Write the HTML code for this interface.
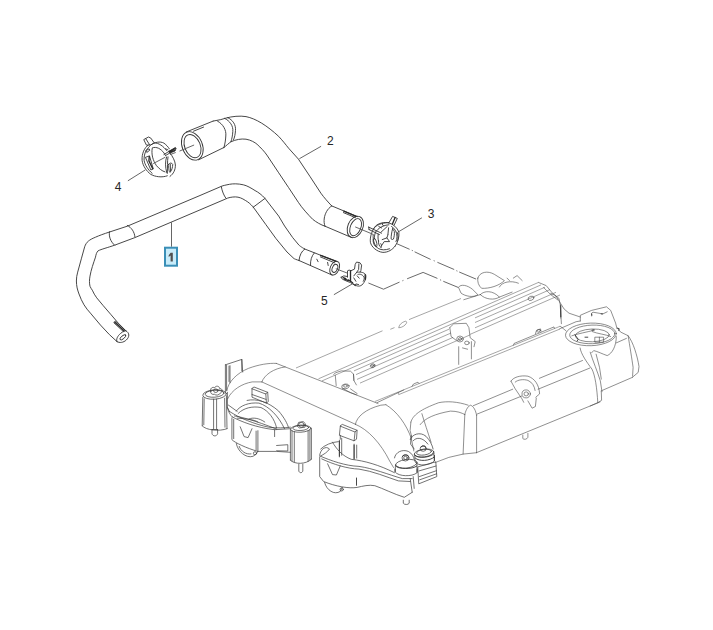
<!DOCTYPE html>
<html><head><meta charset="utf-8"><title>diagram</title>
<style>
html,body{margin:0;padding:0;background:#fff;}
body{width:713px;height:630px;overflow:hidden;font-family:"Liberation Sans",sans-serif;}
svg{display:block;position:absolute;left:0;top:0;}

.h{fill:none;stroke:#333;stroke-width:.9;stroke-linecap:round;stroke-linejoin:round}
.hw{fill:#fff;stroke:#333;stroke-width:1;stroke-linecap:round;stroke-linejoin:round}
.k{fill:none;stroke:#2a2a2a;stroke-width:1.35;stroke-linecap:round}
.c{fill:none;stroke:#333;stroke-width:.9;stroke-linecap:round;stroke-linejoin:round}
.e{fill:none;stroke:#4a4a4a;stroke-width:.62;stroke-linecap:round;stroke-linejoin:round}
.ed{fill:none;stroke:#3c3c3c;stroke-width:.72;stroke-linecap:round;stroke-linejoin:round}
.el{fill:none;stroke:#5c5c5c;stroke-width:.55}
.e2{fill:none;stroke:#333;stroke-width:.9}
.l{fill:none;stroke:#555;stroke-width:.9}
.dd{fill:none;stroke:#444;stroke-width:.8;stroke-linecap:butt}
.d{fill:none;stroke:#444;stroke-width:.8;stroke-dasharray:9 2.5 2 2.5}
text{font-family:"Liberation Sans",sans-serif;font-size:12px;fill:#262626}

</style></head><body>
<svg width="713" height="630" viewBox="0 0 713 630">
<path class="h" d="M 213.1 121.1 L 220.8 119.6 L 225.6 118.2 C 232.0 116.3 240.0 115.6 246.0 116.6 C 256.0 118.6 267.0 125.6 278.7 136.4 C 283.0 141.0 286.0 145.0 288.6 148.2 L 298.4 159.1 L 310.2 176.8 L 320.9 193.2 C 324.0 197.5 328.0 202.0 331.7 205.9"/>
<path class="h" d="M 223.9 147.5 C 226.0 146.0 229.0 143.0 230.9 141.8 C 236.0 139.5 241.0 138.6 246.0 139.2 C 251.0 140.0 255.0 142.5 257.1 144.3 C 261.0 148.0 264.0 151.0 266.9 155.1 L 278.7 172.8 L 288.6 187.6 L 298.4 202.4 C 302.0 208.0 308.0 214.5 312.7 219.3 C 316.0 222.0 321.0 225.0 325.0 226.2"/>
<path class="h" d="M 186.2 132.0 L 213.1 121.1"/>
<path class="h" d="M 193.5 131.2 L 203.6 127.1"/>
<path class="h" d="M 198.6 159.8 L 223.9 147.5"/>
<path class="h" d="M 217.6 121.2 C 223.0 124.0 226.5 130.0 225.8 136.0 C 225.6 140.0 225.0 144.0 223.9 147.5"/>
<path class="h" d="M 224.6 118.3 C 230.0 121.0 233.4 126.0 232.8 131.5 C 232.6 135.0 232.0 139.0 230.9 141.8"/>
<path class="h" d="M 227.7 117.6 C 233.0 120.0 236.0 125.0 235.5 130.4 C 235.3 134.0 234.6 137.5 233.5 139.9"/>
<ellipse class="h" cx="192.3" cy="145.9" rx="10.1" ry="14.8" transform="rotate(-22.0 192.3 145.9)"/>
<ellipse class="h" cx="192.5" cy="146.1" rx="7.8" ry="12.1" transform="rotate(-22.0 192.5 146.1)"/>
<path class="h" d="M 331.7 205.9 L 357.7 216.7"/>
<path class="h" d="M 325.0 226.2 L 352.0 237.7"/>
<path class="h" d="M 331.7 205.9 C 327.0 209.0 325.0 214.0 324.3 218.0 C 323.8 221.5 324.2 224.0 325.0 226.2"/>
<ellipse class="h" cx="355.3" cy="226.9" rx="7.5" ry="11.2" transform="rotate(23.0 355.3 226.9)"/>
<ellipse class="h" cx="355.6" cy="227.2" rx="5.2" ry="9.0" transform="rotate(23.0 355.6 227.2)"/>
<path class="k" d="M 343.8 211.2 L 356.0 216.3"/>
<path class="h" d="M 343.4 212.6 L 355.5 217.7"/>
<path class="h" d="M 304.7 249.0 C 301.0 247.0 299.0 245.2 299.0 245.2 L 292.7 237.6 L 284.6 226.0 L 278.7 216.1 L 265.0 198.4 C 262.0 195.0 258.0 192.0 255.1 190.6 C 251.0 188.0 247.0 185.6 243.3 184.8 C 238.0 183.6 233.0 183.6 229.5 184.3 C 226.0 185.0 223.0 185.6 221.7 186.2 L 200.0 195.5 L 127.3 226.2 L 109.5 232.0 C 104.0 233.8 99.0 235.6 95.5 237.2 C 92.0 238.6 90.0 239.8 88.5 241.0 C 86.5 242.6 85.5 244.5 84.7 246.7 L 81.5 258.2 L 77.7 272.1 C 76.8 275.0 76.4 278.0 76.4 281.0 C 76.4 286.0 77.5 290.0 79.0 294.0 C 80.5 298.0 82.0 301.5 84.0 304.8 C 86.0 308.0 88.0 310.5 90.4 313.1 L 100.5 325.1 L 109.4 334.6 L 117.0 341.6"/>
<path class="h" d="M 299.0 260.5 C 296.5 259.8 294.0 258.6 294.0 258.6 L 287.0 252.0 L 276.0 238.6 L 265.8 224.5 L 253.1 206.9 C 250.5 204.0 248.0 201.8 245.3 200.4 C 242.0 198.2 239.0 197.0 235.4 196.9 C 232.0 196.9 228.0 197.6 225.6 199.0 L 134.9 237.6 L 114.6 245.2 C 108.0 247.5 101.0 249.3 98.1 250.8 C 96.5 252.5 96.0 254.5 95.5 257.1 C 93.5 263.0 91.0 270.0 90.0 276.1 C 89.3 280.0 89.3 283.0 90.0 286.3 C 90.8 288.0 91.5 289.0 92.3 290.2 C 93.5 293.0 95.0 295.5 96.7 297.8 L 103.1 305.5 L 110.7 314.3 L 118.3 323.2 L 125.9 330.8"/>
<path class="h" d="M 221.3 186.6 C 222.0 191.0 223.8 195.5 226.0 198.4"/>
<path class="h" d="M 265.0 198.4 L 253.1 207.3"/>
<path class="h" d="M 109.5 231.7 C 108.6 236.5 110.5 241.5 114.6 245.2"/>
<path class="h" d="M 127.3 225.4 C 131.5 227.5 134.5 232.0 134.9 236.8"/>
<path class="h" d="M 117.0 341.6 C 119.5 343.3 123.5 342.6 126.3 340.0 C 129.5 337.0 130.0 333.0 125.9 330.8"/>
<path class="h" d="M 117.0 341.6 C 115.8 339.5 117.5 336.0 120.5 333.5 C 123.0 331.3 125.0 330.5 125.9 330.8"/>
<ellipse class="h" cx="122.9" cy="337.3" rx="3.6" ry="1.5" transform="rotate(-40.0 122.9 337.3)"/>
<path class="h" d="M 113.8 322.7 L 123.3 331.5 M 115.4 321.1 L 124.9 329.9"/>
<path class="k" d="M 114.6 321.9 L 124.1 330.7" stroke="#888" stroke-width="1.2"/>
<path class="h" d="M 304.7 249.0 L 337.1 261.7"/>
<path class="h" d="M 299.0 260.5 L 332.0 275.0"/>
<path class="h" d="M 304.7 249.0 C 301.5 251.5 299.6 255.0 299.0 260.5"/>
<path class="h" d="M 314.3 253.0 C 311.6 256.0 310.3 260.0 310.5 265.5"/>
<ellipse class="h" cx="334.7" cy="268.1" rx="4.4" ry="7.3" transform="rotate(23.0 334.7 268.1)"/>
<ellipse class="h" cx="334.9" cy="268.4" rx="2.6" ry="4.2" transform="rotate(23.0 334.9 268.4)"/>
<path class="k" d="M 320.6 255.4 L 335.8 261.2"/>
<path class="h" d="M 320.4 256.9 L 334.8 262.9"/>
<path class="h" d="M 316.8 259.2 L 318.1 261.7"/>
<path class="h" d="M 327.6 262.4 L 328.2 265.5"/>
<rect x="165" y="247.7" width="12" height="18" fill="#c8ecfa" stroke="#3a8fb7" stroke-width="2"/>
<path d="M170.6 252.8 L172.8 252.8 L172.8 261.4 L170.6 261.4 L170.6 255.6 L168.7 256.9 L168.7 255.2 Z" fill="#505050"/>
<path class="l" d="M 171.5 222.3 L 171.5 246.7" stroke-width="1.2" stroke="#666"/>
<text x="330.4" y="145.4" text-anchor="middle">2</text>
<path class="l" d="M 321.1 146.3 L 299.4 158.7"/>
<text x="431" y="217.7" text-anchor="middle">3</text>
<path class="l" d="M 398.8 231.6 L 421.9 217.8"/>
<text x="118.1" y="190.6" text-anchor="middle">4</text>
<path class="l" d="M 127.9 180.8 L 145.3 169.9"/>
<text x="324.3" y="304.9" text-anchor="middle">5</text>
<path class="l" d="M 333.9 294.7 L 352.3 283.9"/>
<path class="c" d="M 148.1 145.1 C 144.4 147.8 141.7 153.5 142.1 160.3 C 142.7 165.7 146.4 171.0 150.8 174.4 C 155.2 176.8 161.9 177.8 167.3 175.8"/>
<path class="c" d="M 149.5 146.5 C 146.1 149.2 143.8 154.2 144.1 160.3 C 144.8 165.0 148.1 169.7 152.2 173.4"/>
<path class="c" d="M 144.1 139.4 L 148.5 137.0 L 150.8 138.1 L 154.2 142.8 L 150.5 145.1 L 146.8 145.1 Z M 145.8 138.7 L 149.5 144.6"/>
<path class="c" d="M 150.5 145.1 C 155.2 142.0 159.9 141.1 163.9 143.1 C 166.6 145.1 168.3 147.1 169.3 148.8"/>
<path class="c" d="M 154.5 142.9 C 158.6 142.8 163.3 146.1 166.6 150.5"/>
<path class="c" d="M 152.5 147.8 C 156.5 146.3 160.9 148.8 163.9 152.9 L 165.0 154.6"/>
<path class="c" d="M 163.9 154.6 L 168.7 151.5 L 175.4 147.5 L 176.1 148.6 L 174.7 151.2 L 170.0 152.9 L 165.3 155.7"/>
<path class="k" d="M 169.0 151.7 L 175.3 148.3 M 169.7 152.5 L 174.9 150.3"/>
<path class="c" d="M 165.6 148.8 L 168.0 149.9"/>
<path class="c" d="M 170.0 152.9 C 172.7 156.6 175.1 160.9 175.4 165.0 C 175.4 169.7 173.7 173.7 170.0 176.4"/>
<path class="c" d="M 166.6 156.9 C 165.2 160.9 165.0 167.0 166.8 172.7 M 168.0 156.9 C 167.2 161.6 167.7 167.0 167.3 173.4"/>
<path class="c" d="M 152.2 148.5 C 151.2 154.2 152.8 160.3 156.5 165.7 C 159.2 168.7 161.9 171.0 165.0 171.9"/>
<path class="c" d="M 146.1 150.5 L 149.1 148.8 L 149.8 150.2 L 147.1 152.2 Z"/>
<path class="c" d="M 145.8 157.2 L 149.5 155.9 L 153.3 169.0 L 151.2 169.8 Z"/>
<path class="k" d="M 149.3 156.4 L 148.9 160.9 L 152.6 168.5"/>
<path class="c" d="M 168.7 164.3 C 169.7 162.6 171.7 162.6 172.7 164.3 C 172.8 167.0 171.7 170.7 170.0 172.4 C 169.0 171.7 168.5 168.4 168.7 164.3 Z"/>
<path class="c" d="M 170.3 164.3 L 170.5 171.0"/>
<path class="l" d="M 153.2 163.6 L 165.3 157.2 M 170.0 154.6 L 175.7 152.5 M 179.5 151.1 L 194.1 145.0"/>
<path class="c" d="M 388.6 222.8 C 384.2 221.8 378.8 223.1 375.5 226.1 C 372.1 230.2 369.7 236.9 370.4 242.3 C 371.4 247.0 376.8 251.7 382.9 252.4 C 388.3 252.4 392.3 249.7 395.0 246.3"/>
<path class="c" d="M 388.6 222.8 C 393.6 224.1 397.3 227.8 398.9 232.2 C 399.4 236.9 398.0 242.3 395.0 246.3"/>
<path class="c" d="M 391.6 226.5 C 395.0 228.5 397.0 232.2 397.0 236.9 C 397.0 238.9 396.5 240.6 396.0 241.6"/>
<path class="c" d="M 373.2 234.6 C 372.6 240.3 374.8 247.0 378.8 248.7 C 381.5 250.0 384.9 250.4 389.5 248.8"/>
<path class="c" d="M 388.9 222.8 L 392.6 216.4 L 397.3 218.4 L 394.3 224.8"/>
<path class="k" d="M 395.1 217.5 L 392.4 224.0"/>
<path class="c" d="M 368.7 227.1 L 381.5 233.2 M 369.1 229.6 L 379.5 234.6 M 368.7 227.1 L 369.1 229.6"/>
<path class="c" d="M 373.8 228.5 C 375.8 225.1 381.5 222.8 388.6 222.6"/>
<path class="c" d="M 375.5 232.2 C 378.2 227.8 383.5 225.1 388.9 224.8"/>
<path class="c" d="M 381.0 232.2 L 387.2 226.5" stroke-width="1.15"/>
<path class="c" d="M 378.8 226.5 L 381.7 228.0 M 382.2 224.1 L 383.5 225.8"/>
<path class="c" d="M 388.6 227.8 L 387.9 234.6" stroke-width="1.15"/>
<path class="c" d="M 392.6 228.8 C 391.6 232.2 391.1 236.2 391.1 238.9 C 392.0 239.7 393.0 239.6 393.4 239.1 C 394.2 236.9 394.7 233.5 394.3 231.5 C 394.0 230.2 393.3 229.2 392.6 228.8 Z"/>
<path class="c" d="M 397.1 232.2 C 398.4 234.9 398.2 237.9 397.7 240.3" stroke-width="1.15"/>
<path class="c" d="M 387.9 234.9 L 386.9 237.9 L 382.2 239.6 M 386.9 237.9 L 389.6 241.6 L 384.2 241.6 L 381.5 245.7" stroke-width=".7"/>
<path class="c" d="M 373.1 239.6 C 372.8 243.0 374.5 246.3 376.5 247.0 C 377.5 245.3 376.9 241.6 375.1 238.9 Z"/>
<path class="c" d="M 378.5 240.9 C 378.2 243.6 379.4 246.7 381.2 247.7 C 381.7 246.0 381.5 244.3 380.8 243.6"/>
<path class="c" d="M 375.5 232.2 C 374.5 234.9 374.1 237.6 374.5 238.9 M 378.2 234.2 C 377.8 236.9 378.0 239.6 378.5 240.9"/>
<path class="l" d="M 355.2 226.9 L 373.0 234.3"/>
<path class="c" d="M 347.5 277.2 L 347.5 270.8 L 349.1 270.1 L 350.8 270.6"/>
<path class="k" d="M 350.5 270.9 L 350.5 281.4"/>
<path class="c" d="M 350.8 270.8 L 354.5 269.1 L 355.2 264.4 L 356.5 262.1 L 359.9 262.7 L 361.6 265.1 L 360.9 270.5 L 360.2 271.8"/>
<path class="c" d="M 358.9 263.8 L 358.6 269.5 L 356.5 272.5 L 353.8 275.9"/>
<path class="c" d="M 356.5 272.5 C 359.2 271.7 363.3 271.8 365.6 274.5 C 366.6 277.9 365.0 281.9 361.9 285.0 C 359.2 287.0 355.9 286.3 352.8 283.3"/>
<path class="c" d="M 357.9 274.5 C 360.2 273.5 363.3 274.9 364.3 277.9 C 364.3 279.6 363.9 280.6 363.3 281.4"/>
<path class="k" d="M 365.1 274.7 L 365.4 279.2"/>
<path class="c" d="M 341.1 277.2 L 343.8 275.9 L 347.5 276.5 M 341.1 277.2 L 342.4 279.2 L 347.1 281.3 L 350.5 282.6 L 355.2 285.6"/>
<path class="k" d="M 343.1 277.6 L 345.8 278.6 M 344.4 279.0 L 348.5 280.6"/>
<path class="k" d="M 348.6 280.0 L 352.6 282.7"/>
<path class="c" d="M 353.8 277.9 L 355.9 281.3 M 357.2 275.9 L 359.2 278.2 M 355.2 285.6 L 355.9 283.9 L 358.6 284.6"/>
<path class="l" d="M 335.8 268.7 L 347.3 273.1"/>
<path class="dd" d="M 396.1 243.4 L 409.6 249.3 M 411.8 250.3 L 412.8 250.7 M 414.6 251.8 L 430.6 259.4 M 433.7 260.6 L 434.7 261.0 M 437.4 262.3 L 454.2 269.5 M 456.4 270.7 L 457.4 271.1 M 459.2 272.0 L 476.1 279.1"/>
<path class="dd" d="M 368.4 283.0 L 383.5 289.2 L 399.5 282.1 M 402.4 280.8 L 403.4 280.4 M 407.1 278.8 L 423.1 272.4 L 437.4 278.4 M 440.1 279.8 L 441.1 280.2 M 443.3 281.3 L 458.4 287.5"/>
<path class="el" d="M 296.0 368.0 L 382.5 330.8"/>
<path class="el" d="M 390.3 329.3 L 394.5 327.6 M 398.7 327.8 C 399.0 325.0 401.5 322.3 405.4 321.2 C 407.0 321.3 406.8 322.8 406.2 323.6 C 405.0 325.6 402.0 327.6 398.7 327.8"/>
<path class="el" d="M 409.0 319.6 L 461.0 298.5"/>
<path class="el" d="M 318.5 378.8 L 538.5 282.4"/>
<path class="el" d="M 322.0 380.9 L 541.0 284.9"/>
<path class="el" d="M 354.0 370.9 L 449.0 329.2"/>
<path class="el" d="M 475.0 317.9 L 545.0 287.2"/>
<path class="el" d="M 356.0 374.6 L 451.0 333.0"/>
<path class="el" d="M 475.0 322.5 L 550.0 289.6"/>
<path class="el" d="M 357.0 379.4 L 453.0 337.4"/>
<path class="el" d="M 475.0 327.8 L 556.0 292.3"/>
<path class="el" d="M 360.0 383.1 L 470.0 334.9"/>
<path class="el" d="M 470.0 334.4 L 560.0 295.0"/>
<path class="el" d="M 374.9 401.5 L 560.0 326.3"/>
<path class="el" d="M 398.7 394.6 L 560.0 329.0"/>
<path class="el" d="M 398.7 394.6 L 398.0 392.2"/>
<path class="e" d="M 412.0 386.3 L 413.5 384.0 L 418.0 382.2 L 419.0 383.5"/>
<path class="e" d="M 513.5 345.1 L 514.0 343.5 L 554.0 326.9 L 554.4 328.2"/>
<path class="e" d="M 535.5 333.6 L 536.5 330.4 L 540.5 328.9 L 541.0 331.3"/>
<path class="e" d="M 276.3 363.4 L 378.0 403.5"/>
<path class="e" d="M 262.0 382.0 L 355.5 424.3"/>
<path class="e" d="M 226.8 390.8 C 228.1 381.9 237.0 373.0 248.4 368.4 C 258.6 364.6 268.7 362.9 276.3 363.4"/>
<path class="e" d="M 285.2 366.9 C 273.8 368.4 264.2 374.8 261.9 381.9"/>
<path class="e" d="M 227.6 398.9 C 231.9 389.5 242.1 383.7 252.2 381.9 L 261.9 381.9"/>
<path class="e" d="M 355.4 424.3 C 356.7 416.7 365.6 409.0 380.8 405.2 L 385.9 404.7"/>
<path class="e" d="M 385.9 404.7 C 397.3 411.6 406.2 424.3 411.3 438.3 L 413.8 451.0"/>
<path class="e" d="M 355.4 424.3 C 368.1 429.4 380.8 443.3 389.7 461.1 L 393.5 467.5"/>
<path class="e" d="M 377.0 402.7 L 403.7 390.0"/>
<path class="ed" d="M 225.4 364.8 L 225.4 392.3 M 226.6 365.4 L 226.6 390.3 M 225.4 364.8 L 241.8 359.4 L 242.7 372.0 M 241.8 359.4 L 241.8 370.7 M 230.0 365.7 L 230.0 382.7 M 229.0 366.1 L 229.0 381.5"/>
<ellipse class="ed" cx="214.6" cy="394.5" rx="11.8" ry="4.7" transform="rotate(-4.0 214.6 394.5)"/>
<ellipse class="ed" cx="214.6" cy="393.7" rx="9.4" ry="3.5" transform="rotate(-4.0 214.6 393.7)"/>
<path class="ed" d="M 202.8 397.2 L 202.2 425.8 M 226.4 395.7 L 227.0 428.7 M 202.2 425.8 C 205.7 430.3 219.5 431.7 227.0 428.7 M 204.2 398.8 L 203.8 424.8 M 224.6 398.2 L 225.0 427.2"/>
<path class="ed" d="M 210.7 391.3 C 209.7 388.4 212.6 386.4 214.6 387.8 C 215.6 385.4 219.5 385.8 219.5 388.4 C 222.5 388.4 223.1 391.7 220.5 392.9 C 219.5 395.3 215.6 395.7 214.6 394.3 C 212.0 394.9 210.1 393.3 210.7 391.3 Z"/>
<ellipse class="ed" cx="215.8" cy="390.7" rx="2.2" ry="1.8" transform="rotate(0.0 215.8 390.7)"/>
<path class="ed" d="M 213.6 399.2 L 213.6 429.1 M 216.6 399.2 L 216.6 429.1 M 212.0 429.5 L 212.0 433.7 C 212.8 436.6 216.8 436.6 217.6 433.7 L 217.6 429.5 M 212.0 429.5 L 217.6 429.5"/>
<path class="ed" d="M 227.4 392.3 L 227.4 407.5 L 229.4 411.4 M 228.4 405.1 L 237.2 411.4 M 227.4 407.5 C 228.4 412.0 230.3 415.3 232.3 416.9"/>
<path class="ed" d="M 232.3 416.9 C 241.2 421.8 256.9 427.7 274.6 429.7 L 290.4 428.7"/>
<path class="ed" d="M 229.4 411.4 C 239.2 417.9 255.0 424.4 268.7 427.2 C 276.6 428.3 284.5 427.9 290.4 427.2"/>
<path class="ed" d="M 231.9 417.9 L 231.9 439.6 C 234.3 442.5 247.1 448.4 257.9 451.4 L 257.9 430.7"/>
<path class="ed" d="M 233.7 419.3 L 233.7 438.6 M 256.1 431.1 L 256.1 450.0"/>
<path class="ed" d="M 240.2 426.8 L 244.1 436.6 L 248.1 437.6 L 252.0 428.7"/>
<path class="ed" d="M 236.3 443.5 C 237.6 451.4 246.1 458.6 253.0 456.3 C 255.9 454.7 257.3 452.7 257.9 451.4"/>
<path class="ed" d="M 239.2 446.4 C 240.8 451.4 246.1 454.7 251.0 453.9"/>
<ellipse class="ed" cx="255.0" cy="453.3" rx="1.6" ry="1.6" transform="rotate(0.0 255.0 453.3)"/>
<path class="ed" d="M 236.3 411.0 C 240.2 405.5 249.0 402.2 258.9 403.1 C 268.7 406.1 278.6 415.9 284.5 428.7"/>
<path class="ed" d="M 238.2 413.4 C 244.1 407.5 253.0 406.1 260.9 407.5 C 268.7 411.0 274.6 418.9 276.6 427.9"/>
<path class="ed" d="M 247.1 400.4 C 256.9 398.2 268.7 402.2 278.6 411.0 C 284.5 417.9 287.4 423.8 288.4 427.2"/>
<path class="ed" d="M 234.3 415.9 C 247.1 417.9 264.8 424.4 276.6 429.1"/>
<path class="ed" d="M 237.2 418.1 C 245.1 418.9 254.0 419.3 257.9 422.0 M 249.0 418.9 C 253.0 417.3 258.9 417.9 264.8 422.0"/>
<path class="ed" d="M 252.0 388.4 L 254.0 387.0 L 267.7 392.3 L 265.8 393.7 Z M 252.0 388.8 L 252.0 397.2 L 266.4 403.1 L 265.8 393.7 M 267.7 392.3 L 268.3 401.6 L 266.4 403.1 M 252.0 394.5 L 266.0 399.4"/>
<path class="ed" d="M 257.9 451.4 L 276.6 451.4 L 290.4 452.3 M 274.6 429.7 L 274.6 436.6 M 276.6 445.5 L 287.8 444.7 L 287.8 451.0 L 276.6 450.8"/>
<ellipse class="ed" cx="300.8" cy="428.7" rx="10.2" ry="3.5" transform="rotate(-3.0 300.8 428.7)"/>
<ellipse class="ed" cx="300.8" cy="427.9" rx="7.9" ry="2.6" transform="rotate(-3.0 300.8 427.9)"/>
<ellipse class="ed" cx="301.4" cy="424.8" rx="2.8" ry="2.4" transform="rotate(0.0 301.4 424.8)"/>
<path class="ed" d="M 297.3 425.8 L 298.6 422.4 L 303.2 421.6 L 305.7 424.0 L 304.9 427.2 L 299.8 427.9 Z"/>
<path class="ed" d="M 290.4 429.7 L 290.4 460.2 M 311.4 428.7 L 311.4 459.2 M 294.3 431.7 L 294.3 462.2 M 308.1 430.7 L 308.1 461.4 M 292.0 430.7 L 292.0 461.0 M 309.9 429.7 L 309.9 460.2"/>
<path class="ed" d="M 290.4 460.2 C 294.3 464.6 306.1 464.6 311.4 459.2"/>
<path class="ed" d="M 298.8 464.2 L 298.8 471.0 C 299.4 473.2 302.2 473.2 302.8 471.0 L 302.8 464.2"/>
<path class="ed" d="M 340.3 425.8 L 342.3 424.4 L 357.1 430.3 L 355.1 431.7 Z M 340.3 426.4 L 339.4 435.3 L 354.1 440.8 L 355.1 431.7 M 357.1 430.3 L 356.5 439.2 L 354.1 440.8"/>
<path class="ed" d="M 339.4 440.2 L 339.4 456.9 M 341.7 438.2 L 341.7 455.3 M 354.1 444.1 L 354.1 459.3 M 356.7 445.1 L 356.7 458.1 M 340.3 435.3 L 340.3 439.2"/>
<path class="e2" d="M 339.4 440.8 L 339.4 456.5 M 354.1 444.7 L 354.1 458.9"/>
<path class="ed" d="M 320.7 449.0 C 324.6 445.1 331.5 442.2 338.4 441.6 M 332.5 442.2 C 336.4 449.0 342.3 455.9 351.2 459.3 C 365.0 460.9 378.7 464.8 394.5 472.7"/>
<path class="ed" d="M 319.7 455.0 C 320.7 449.0 325.6 445.5 329.5 449.0 C 327.6 452.0 323.6 454.6 320.7 455.9"/>
<path class="ed" d="M 319.7 455.9 C 331.5 460.9 345.3 465.8 359.0 466.4 C 372.8 468.3 388.6 474.6 402.3 478.6 L 412.2 478.6"/>
<path class="ed" d="M 321.7 458.9 C 333.5 464.4 347.2 468.7 359.0 469.1 C 372.8 471.1 386.6 477.0 398.4 480.9 L 410.2 481.5"/>
<path class="ed" d="M 319.7 456.9 L 319.7 476.6 L 323.6 481.5 C 335.4 486.4 349.2 488.8 357.1 487.4 C 363.0 486.1 368.9 484.5 374.8 485.7 C 382.7 488.4 394.5 494.3 404.3 497.3 L 412.2 492.3"/>
<path class="ed" d="M 327.6 463.8 L 332.5 474.6 L 336.4 475.0 L 340.3 465.8"/>
<path class="e2" d="M 356.5 477.6 L 356.5 485.7"/>
<path class="ed" d="M 324.6 482.5 C 326.6 490.4 334.4 495.3 340.3 491.4 L 342.3 487.4"/>
<ellipse class="ed" cx="341.7" cy="489.4" rx="1.6" ry="1.6" transform="rotate(0.0 341.7 489.4)"/>
<ellipse class="ed" cx="406.3" cy="463.8" rx="10.8" ry="4.3" transform="rotate(-8.0 406.3 463.8)"/>
<ellipse class="ed" cx="405.5" cy="457.9" rx="3.5" ry="3.1" transform="rotate(0.0 405.5 457.9)"/>
<ellipse class="ed" cx="405.5" cy="457.9" rx="1.8" ry="1.6" transform="rotate(0.0 405.5 457.9)"/>
<path class="ed" d="M 395.5 464.8 L 395.1 471.9 C 398.4 476.6 412.2 477.0 417.1 472.7 L 416.9 463.2"/>
<path class="ed" d="M 394.5 457.9 C 395.5 452.0 402.3 449.0 408.3 451.4 C 412.2 453.4 413.8 456.9 414.2 459.3"/>
<ellipse class="ed" cx="424.0" cy="453.0" rx="9.8" ry="3.9" transform="rotate(-8.0 424.0 453.0)"/>
<ellipse class="ed" cx="423.2" cy="448.7" rx="3.0" ry="2.6" transform="rotate(0.0 423.2 448.7)"/>
<ellipse class="ed" cx="424.0" cy="452.2" rx="7.5" ry="2.8" transform="rotate(-8.0 424.0 452.2)"/>
<path class="ed" d="M 414.6 454.0 L 415.1 462.0 C 418.1 466.4 429.9 465.8 434.4 460.9 L 433.8 452.2"/>
<path class="ed" d="M 410.2 439.6 C 411.8 434.3 420.1 431.3 426.0 436.3 C 429.9 440.2 432.3 445.1 433.1 449.0"/>
<path class="ed" d="M 413.2 440.8 C 416.1 436.8 423.0 437.2 427.9 444.1"/>
<path class="ed" d="M 411.2 435.7 L 410.6 444.1 L 414.2 449.0"/>
<path class="e2" d="M 414.7 455.0 C 418.1 458.5 429.9 457.9 434.2 453.4 M 415.1 457.9 C 419.1 461.8 429.9 460.9 434.4 456.9"/>
<path class="e2" d="M 395.5 465.2 C 398.4 469.1 412.2 469.7 417.1 465.8"/>
<path class="e2" d="M 402.3 456.9 L 403.9 455.0 L 407.3 455.0 L 408.6 456.9 M 420.5 447.5 L 422.0 445.9 L 424.8 445.9 L 426.0 447.9"/>
<path class="e2" d="M 395.1 468.7 L 395.1 471.9 M 417.1 468.7 L 417.1 472.7 M 434.4 455.0 L 434.4 460.9"/>
<path class="ed" d="M 418.1 466.8 L 435.8 461.8 L 436.8 476.6 L 419.1 483.7 Z M 419.1 470.9 L 436.0 466.0 M 419.7 479.8 L 436.6 473.8 M 419.3 476.6 L 436.4 470.7"/>
<path class="ed" d="M 410.2 478.6 L 412.2 492.3 M 413.2 476.6 L 414.2 488.4"/>
<path class="ed" d="M 403.3 500.2 L 403.3 503.2 C 404.3 504.9 408.3 504.9 409.2 503.2 L 409.2 500.2"/>
<path class="e" d="M 410.9 422.1 C 412.6 415.3 420.2 409.5 438.7 402.7 C 447.1 401.0 457.2 401.5 468.2 405.2"/>
<path class="e" d="M 420.2 424.6 C 424.4 418.4 435.3 413.7 450.5 411.1 C 457.2 411.1 461.4 412.8 464.8 414.5"/>
<path class="e" d="M 464.8 414.5 C 466.0 408.9 468.7 405.6 470.7 405.2 C 473.7 406.6 475.7 410.3 476.6 415.3"/>
<path class="e" d="M 464.8 414.5 L 463.1 454.1 M 476.6 415.3 L 476.6 452.4"/>
<path class="e" d="M 410.9 422.1 L 410.1 430.5 L 411.8 437.2"/>
<path class="e" d="M 435.3 462.5 L 448.8 457.4 L 463.1 454.1 L 476.6 452.7"/>
<path class="e" d="M 421.9 413.7 C 424.4 422.1 427.8 432.2 431.1 442.3"/>
<path class="e" d="M 473.3 405.7 L 512.7 389.2 M 539.4 378.3 L 582.5 360.5"/>
<path class="e" d="M 477.1 414.1 L 521.6 396.1 M 538.1 389.2 L 589.7 368.1"/>
<path class="e" d="M 476.4 452.7 L 600.1 401.9"/>
<path class="e" d="M 538.6 282.5 L 546.2 285.6 L 552.5 293.2 L 558.9 298.3 L 560.2 304.6 L 561.4 323.7"/>
<path class="e" d="M 543.7 287.6 L 550.8 294.7 L 557.6 299.8"/>
<ellipse class="e" cx="531.0" cy="298.3" rx="3.0" ry="2.0" transform="rotate(-20.0 531.0 298.3)"/>
<ellipse class="e" cx="538.6" cy="330.8" rx="1.8" ry="1.3" transform="rotate(-20.0 538.6 330.8)"/>
<ellipse class="e" cx="590.9" cy="334.4" rx="25.4" ry="11.3" transform="rotate(-2.0 590.9 334.4)"/>
<ellipse class="e" cx="592.3" cy="334.4" rx="22.6" ry="9.3" transform="rotate(-2.0 592.3 334.4)"/>
<ellipse class="e" cx="592.3" cy="335.4" rx="17.0" ry="6.4" transform="rotate(-2.0 592.3 335.4)"/>
<path class="e" d="M 571.8 335.8 C 577.5 333.7 587.4 332.0 594.4 330.2 M 592.3 331.6 C 597.3 333.7 605.7 334.4 610.7 336.5"/>
<path class="e" d="M 595.2 337.2 L 603.6 337.2 L 603.6 342.2 L 595.2 342.2 Z M 599.4 337.2 L 599.4 342.2"/>
<path class="e2" d="M 574.7 334.4 L 578.2 339.3 L 576.8 341.5 M 584.6 337.2 L 588.2 337.2 M 591.6 330.2 L 594.4 329.7"/>
<path class="e" d="M 580.3 321.0 L 580.3 315.3 L 591.6 310.4 L 606.5 306.8 L 610.7 310.4 L 615.6 323.1 L 617.0 328.7"/>
<path class="e" d="M 591.6 316.0 L 591.6 313.2 L 593.0 312.2 L 602.9 313.9 L 607.2 311.8"/>
<path class="e2" d="M 591.6 313.6 L 591.9 315.6 M 600.8 313.9 L 602.9 313.9"/>
<path class="e" d="M 580.3 321.0 L 576.1 321.7 L 559.8 328.7"/>
<path class="e" d="M 560.5 304.7 L 560.8 318.1 M 550.7 293.4 L 555.6 295.5 L 560.5 303.3 L 564.1 309.0 L 569.0 313.2 L 580.3 317.0"/>
<path class="e2" d="M 560.8 305.4 L 560.8 317.0"/>
<path class="e" d="M 616.3 336.5 C 616.3 346.4 612.1 353.5 607.2 355.6 C 602.9 354.2 597.3 351.3 593.7 350.6 L 591.6 352.8"/>
<path class="e2" d="M 617.0 328.0 L 619.2 328.7 L 618.7 330.9"/>
<path class="e" d="M 560.2 326.2 L 566.0 330.8"/>
<path class="e" d="M 618.0 328.6 L 620.5 332.0 L 628.1 335.7 C 633.1 342.1 637.3 355.5 639.0 366.5 L 638.2 372.4 L 632.3 377.4"/>
<path class="e" d="M 628.1 335.7 C 629.7 345.4 631.9 358.9 633.1 367.3 L 632.6 376.1"/>
<path class="e" d="M 601.1 390.9 L 632.3 377.4 M 616.3 342.9 L 626.4 338.4"/>
<path class="e" d="M 580.1 348.0 C 580.9 353.9 586.8 362.3 591.9 369.0 C 595.2 375.7 596.9 387.5 597.8 402.7"/>
<path class="e" d="M 590.2 352.2 C 592.7 360.6 597.8 372.4 600.3 380.8 L 602.0 391.7"/>
<path class="e" d="M 596.1 354.2 L 599.5 367.3 L 601.3 379.1"/>
<path class="e" d="M 590.2 406.0 L 597.8 402.7 L 601.6 400.3 L 601.3 391.7"/>
<path class="e" d="M 511.0 381.2 C 512.7 377.4 520.3 375.0 527.9 376.2 C 534.6 378.4 539.1 384.6 539.6 393.9 L 535.8 397.2"/>
<path class="e" d="M 515.2 382.1 C 517.8 379.6 523.7 379.0 527.9 380.4 C 532.1 382.1 534.6 386.3 535.1 390.5"/>
<path class="e" d="M 511.0 381.2 L 515.2 388.8 L 522.0 398.9 L 523.7 402.3"/>
<ellipse class="e" cx="526.2" cy="393.9" rx="4.2" ry="4.0" transform="rotate(0.0 526.2 393.9)"/>
<ellipse class="e" cx="526.2" cy="393.9" rx="2.2" ry="2.0" transform="rotate(0.0 526.2 393.9)"/>
<path class="e" d="M 527.9 400.9 L 532.1 408.2 L 535.4 406.5 L 536.3 398.1"/>
<path class="e" d="M 522.8 435.1 L 522.8 438.5 C 523.7 439.8 527.0 439.6 527.9 437.3 L 527.9 433.4"/>
<path class="e" d="M 333.7 374.6 L 335.3 372.9 L 341.2 370.9 L 350.5 371.2 L 353.5 374.1 L 353.9 380.5 L 356.4 384.9"/>
<path class="e" d="M 335.3 375.4 L 336.2 385.5 M 353.5 374.1 L 353.9 380.5"/>
<ellipse class="e" cx="345.4" cy="386.4" rx="3.7" ry="2.4" transform="rotate(-10.0 345.4 386.4)"/>
<ellipse class="e" cx="345.4" cy="385.9" rx="1.9" ry="1.3" transform="rotate(0.0 345.4 385.9)"/>
<path class="e" d="M 342.1 388.1 L 350.5 392.6 L 356.4 394.8 M 350.5 388.9 L 357.2 393.6"/>
<ellipse class="e" cx="372.7" cy="365.8" rx="2.4" ry="1.9" transform="rotate(-20.0 372.7 365.8)"/>
<ellipse class="e" cx="372.7" cy="365.8" rx="1.2" ry="0.8" transform="rotate(-20.0 372.7 365.8)"/>
<path class="e" d="M 449.8 327.6 L 453.7 323.8 L 466.3 323.3 L 468.9 327.6 L 470.2 337.8 L 475.2 341.6 L 474.0 346.7"/>
<path class="e" d="M 449.8 327.6 L 451.1 336.5 L 456.2 340.3"/>
<ellipse class="e" cx="460.0" cy="339.0" rx="3.3" ry="3.0" transform="rotate(0.0 460.0 339.0)"/>
<ellipse class="e" cx="460.0" cy="339.0" rx="1.5" ry="1.5" transform="rotate(0.0 460.0 339.0)"/>
<ellipse class="e" cx="466.9" cy="342.9" rx="2.3" ry="1.8" transform="rotate(0.0 466.9 342.9)"/>
<path class="e" d="M 458.7 346.7 L 458.7 364.4 M 471.4 341.6 L 471.4 358.9 M 462.5 347.9 L 467.6 349.2"/>
<path class="e" d="M 458.7 287.0 C 460.8 283.7 467.6 285.2 472.7 289.5 L 477.8 294.6 C 474.0 297.9 465.1 296.4 461.3 293.3 Z"/>
<path class="e" d="M 477.8 278.1 C 479.6 271.7 487.9 270.5 494.3 274.3 L 504.4 280.6 C 499.4 285.7 489.2 288.8 481.6 288.3 C 478.5 285.7 477.3 281.9 477.8 278.1 Z"/>
<path class="e" d="M 480.3 294.6 C 484.1 290.3 493.0 290.3 499.4 297.1 C 494.3 300.4 485.4 299.7 480.3 294.6 Z"/>
<path class="e" d="M 499.4 287.0 C 501.9 281.9 510.8 280.1 518.4 283.2 M 513.3 278.1 L 517.1 275.6 L 522.2 280.6 M 507.0 278.1 L 509.5 280.6"/>
<path class="e" d="M 463.8 299.7 L 480.3 294.6 M 499.4 297.1 L 512.1 292.1"/>
</svg>
</body></html>
